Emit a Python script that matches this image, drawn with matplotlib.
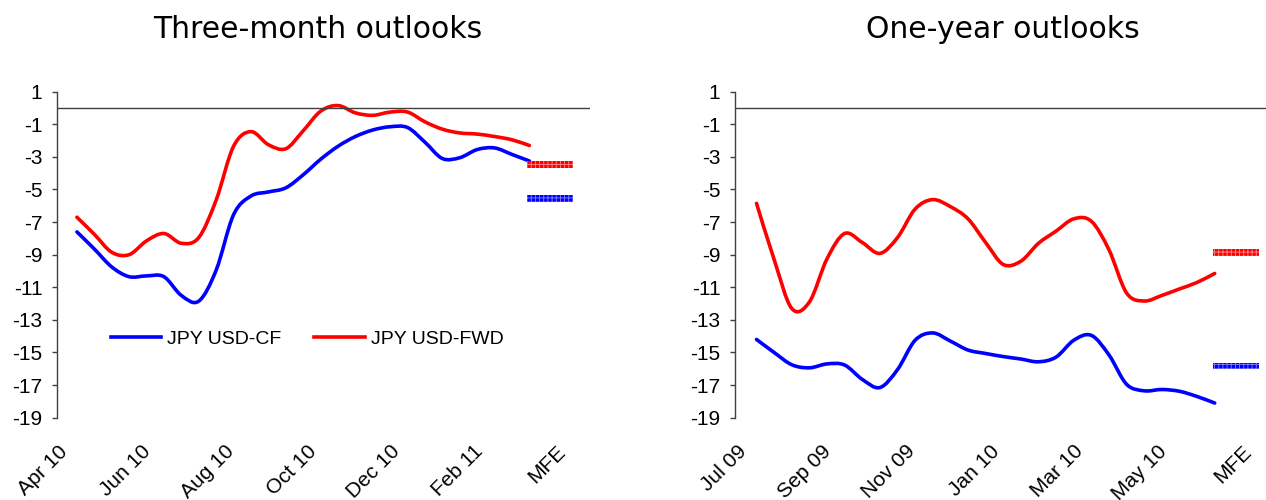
import numpy as np
import matplotlib.pyplot as plt
from matplotlib.path import Path
from matplotlib.patches import PathPatch
from matplotlib.lines import Line2D
from matplotlib.transforms import ScaledTranslation, blended_transform_factory

plt.rcParams['axes.unicode_minus'] = False
plt.rcParams['hatch.linewidth'] = 0.6

# Three-month outlooks (Apr 10 - Mar 11), % deviation
tm_labels = ['Apr 10', 'Jun 10', 'Aug 10', 'Oct 10', 'Dec 10', 'Feb 11', 'MFE']
tm_cf = [-7.6, -8.65, -9.75, -10.35, -10.3, -10.35, -11.5, -11.85, -9.95, -6.55,
         -5.4, -5.15, -4.9, -4.1, -3.15, -2.35, -1.75, -1.35, -1.15, -1.2,
         -2.1, -3.1, -3.05, -2.55, -2.45, -2.85, -3.25]
tm_fwd = [-6.7, -7.75, -8.85, -9.0, -8.15, -7.7, -8.3, -7.95, -5.65, -2.35,
          -1.45, -2.25, -2.5, -1.4, -0.2, 0.15, -0.3, -0.45, -0.25, -0.25,
          -0.85, -1.3, -1.53, -1.6, -1.75, -1.95, -2.3]
tm_mfe_cf = -5.55
tm_mfe_fwd = -3.47

# One-year outlooks (Jul 09 - Jun 10)
oy_labels = ['Jul 09', 'Sep 09', 'Nov 09', 'Jan 10', 'Mar 10', 'May 10', 'MFE']
oy_cf = [-14.2, -15.0, -15.75, -15.94, -15.7, -15.77, -16.65, -17.15, -16.05, -14.25,
         -13.8, -14.3, -14.85, -15.06, -15.25, -15.4, -15.57, -15.28, -14.25, -13.95,
         -15.15, -16.95, -17.35, -17.27, -17.38, -17.7, -18.1]
oy_fwd = [-5.85, -9.3, -12.3, -11.9, -9.25, -7.7, -8.25, -8.92, -7.95, -6.2,
          -5.62, -6.05, -6.8, -8.25, -9.6, -9.4, -8.3, -7.55, -6.8, -6.95,
          -8.7, -11.35, -11.84, -11.5, -11.1, -10.7, -10.15]
oy_mfe_cf = -15.83
oy_mfe_fwd = -8.87

label_font = {'family': ['Liberation Sans', 'DejaVu Sans'], 'size': 15}

fig = plt.figure(figsize=(12.66, 5.0), dpi=100)
ax1 = fig.add_axes([57 / 1266, 0.1646, (590 - 57) / 1266, 0.652])
ax2 = fig.add_axes([735 / 1266, 0.1646, (1266 - 735) / 1266, 0.652])


def smooth_path(x, y):
    # Excel-style smoothed line: bezier segments through the data points
    p = np.column_stack([x, y])
    ext = np.vstack([p[0], p, p[-1]])
    verts = [p[0]]
    codes = [Path.MOVETO]
    for i in range(len(p) - 1):
        p0, p1, p2, p3 = ext[i], ext[i + 1], ext[i + 2], ext[i + 3]
        verts += [p1 + (p2 - p0) / 6, p2 - (p3 - p1) / 6, p2]
        codes += [Path.CURVE4] * 3
    return Path(verts, codes)


def draw(ax, title, title_x, labels, cf, fwd, mfe_cf, mfe_fwd, xlim):
    x = np.linspace(0.6, 11.5, len(cf))
    for ys, c in ((cf, 'blue'), (fwd, 'red')):
        ax.add_patch(PathPatch(smooth_path(x, ys), fill=False, edgecolor=c, lw=2.6,
                               capstyle='round', joinstyle='round'))
    # MFE markers as short patterned bars
    for v, c, light in ((mfe_cf, 'blue', '#8080ff'), (mfe_fwd, 'red', '#ff8a8a')):
        ax.bar(12, 0.42, width=1.1, bottom=v - 0.21, color=c, edgecolor=light,
               hatch='++++', linewidth=0)
    ax.axhline(0, color='#404040', lw=1)

    ax.set_xlim(*xlim)
    ax.set_ylim(-19, 1)
    ax.set_yticks(np.arange(1, -20, -2))
    ax.set_xticks([])
    for s in ['top', 'right', 'bottom']:
        ax.spines[s].set_visible(False)
    ax.spines['left'].set_color('#404040')
    ax.spines['left'].set_linewidth(1)
    ax.tick_params(axis='y', length=3.6, width=1, color='#404040', pad=7)
    for t in ax.get_yticklabels():
        t.set_fontfamily(label_font['family'])
        t.set_fontsize(15)

    trans = blended_transform_factory(ax.transData, ax.transAxes) + \
        ScaledTranslation(0.06, -0.24, fig.dpi_scale_trans)
    for i, lab in enumerate(labels):
        ax.text(2 * i, 0, lab, transform=trans, rotation=45, ha='right', va='top',
                rotation_mode='anchor', clip_on=False, **label_font)

    fig.text(title_x, 0.94, title, ha='center', va='center',
             fontsize=21.5, family='DejaVu Sans')


draw(ax1, 'Three-month outlooks', 318 / 1266, tm_labels, tm_cf, tm_fwd,
     tm_mfe_cf, tm_mfe_fwd, (0.12, 12.96))
draw(ax2, 'One-year outlooks', 1003 / 1266, oy_labels, oy_cf, oy_fwd,
     oy_mfe_cf, oy_mfe_fwd, (0.088, 12.72))

handles = [Line2D([], [], color='blue', lw=2.6, label='JPY USD-CF'),
           Line2D([], [], color='red', lw=2.6, label='JPY USD-FWD')]
ax1.legend(handles=handles, loc='center', bbox_to_anchor=(0.469, 0.241), ncol=2,
           frameon=False, prop={'family': 'Liberation Sans', 'size': 14},
           handlelength=2.6, handletextpad=0.3, columnspacing=1.7)

fig.savefig('out.png', dpi=100)
